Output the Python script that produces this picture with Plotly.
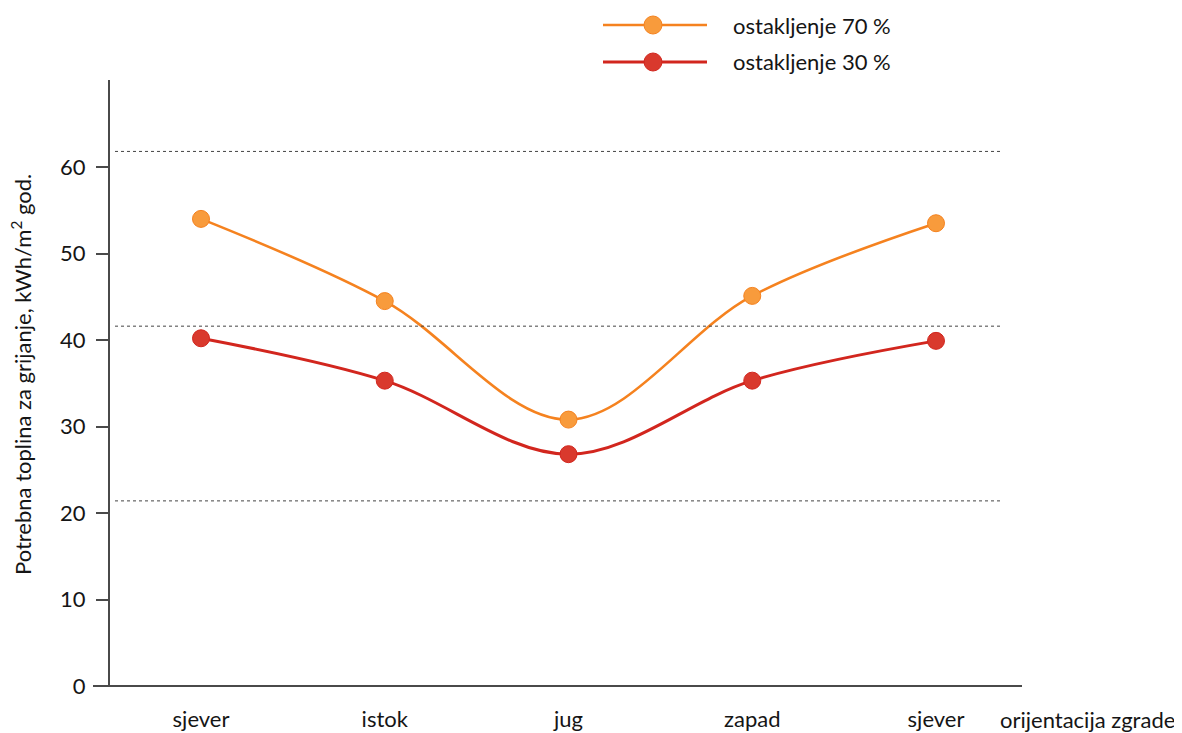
import plotly.graph_objects as go

categories = ["sjever", "istok", "jug", "zapad", "sjever"]
glazing_70 = [54.0, 44.5, 30.8, 45.1, 53.5]
glazing_30 = [40.2, 35.3, 26.8, 35.3, 39.9]
y_ticks = [0, 10, 20, 30, 40, 50, 60]
ref_lines = [61.8, 41.6, 21.4]
series_names = ["ostakljenje 70 %", "ostakljenje 30 %"]

OFF = 8  # page body margin offset
W, H = 1182 - OFF, 733 - OFF
AX_L, AX_R, AX_T, AX_B = 110, 1022, 80, 686
L = AX_L - OFF
T = AX_T - OFF
R = W - (AX_R - OFF)
B = H - (AX_B - OFF)
FONT = "Lato"
TXT = "#151515"
ORANGE_LINE = "#F5821F"
ORANGE_MK = "#F89B3C"
RED_LINE = "#D2261E"
RED_MK = "#D9392D"

pw = W - L - R
ph = H - T - B
def px(x):
    return (x - AX_L) / pw
def py(y):
    return (AX_B - y) / ph

xpos = list(range(len(categories)))

fig = go.Figure()
fig.add_trace(go.Scatter(
    x=xpos, y=glazing_70, mode="lines+markers", name=series_names[0],
    line=dict(color=ORANGE_LINE, width=2.6, shape="spline", smoothing=1.0),
    marker=dict(size=17, color=ORANGE_MK, line=dict(color=ORANGE_LINE, width=1)),
    showlegend=False))
fig.add_trace(go.Scatter(
    x=xpos, y=glazing_30, mode="lines+markers", name=series_names[1],
    line=dict(color=RED_LINE, width=3, shape="spline", smoothing=1.0),
    marker=dict(size=17, color=RED_MK, line=dict(color=RED_LINE, width=1)),
    showlegend=False))

shapes = []
for v in ref_lines:
    shapes.append(dict(type="line", xref="paper", yref="y", x0=px(115), x1=px(1003),
                       y0=v, y1=v, line=dict(color="#444444", width=1, dash="dot")))
shapes.append(dict(type="line", xref="paper", yref="paper",
                   x0=px(93), x1=1.0, y0=0, y1=0,
                   line=dict(color="#4a4a4a", width=2)))

annotations = []
legend_items = [(25, ORANGE_LINE, ORANGE_MK, series_names[0], 2.6),
                (62, RED_LINE, RED_MK, series_names[1], 3)]
for yy, lc, mc, name, lw in legend_items:
    shapes.append(dict(type="line", xref="paper", yref="paper",
                       x0=px(603), x1=px(707), y0=py(yy), y1=py(yy),
                       line=dict(color=lc, width=lw)))
    shapes.append(dict(type="circle", xref="paper", yref="paper",
                       xsizemode="pixel", ysizemode="pixel",
                       xanchor=px(653), yanchor=py(yy),
                       x0=-9, x1=9, y0=-9, y1=9,
                       fillcolor=mc, line=dict(color=lc, width=1)))
    annotations.append(dict(xref="paper", yref="paper", x=px(731), y=py(yy),
                            xanchor="left", yanchor="middle", showarrow=False,
                            text=name, font=dict(family=FONT, size=22, color=TXT)))

annotations.append(dict(xref="paper", yref="paper", x=px(1087), y=py(719),
                        xanchor="center", yanchor="middle", showarrow=False,
                        text="orijentacija zgrade",
                        font=dict(family=FONT, size=22, color=TXT)))
annotations.append(dict(xref="paper", yref="paper", x=px(22), y=py(375),
                        xanchor="center", yanchor="middle", showarrow=False,
                        textangle=-90,
                        text="Potrebna toplina za grijanje, kWh/m<sup>2</sup> god.",
                        font=dict(family=FONT, size=22, color=TXT)))

fig.update_layout(
    width=W, height=H,
    margin=dict(l=L, r=R, t=T, b=B),
    paper_bgcolor="white", plot_bgcolor="white",
    font=dict(family=FONT, size=22, color=TXT),
    shapes=shapes, annotations=annotations,
    xaxis=dict(range=[(AX_L - 201) / 183.75, (AX_R - 201) / 183.75],
               tickvals=xpos, ticktext=categories, showgrid=False, zeroline=False,
               showline=False, ticks="", ticklabelstandoff=18, automargin=False,
               tickfont=dict(family=FONT, size=22, color=TXT)),
    yaxis=dict(range=[0, (AX_B - AX_T) / 8.65], tickvals=y_ticks,
               showgrid=False, zeroline=False, showline=True, linecolor="#4a4a4a",
               linewidth=2, ticks="outside", ticklen=12, tickwidth=2,
               tickcolor="#4a4a4a", ticklabelstandoff=6, automargin=False,
               tickfont=dict(family=FONT, size=22, color=TXT)),
)

fig.write_html("out.html")
